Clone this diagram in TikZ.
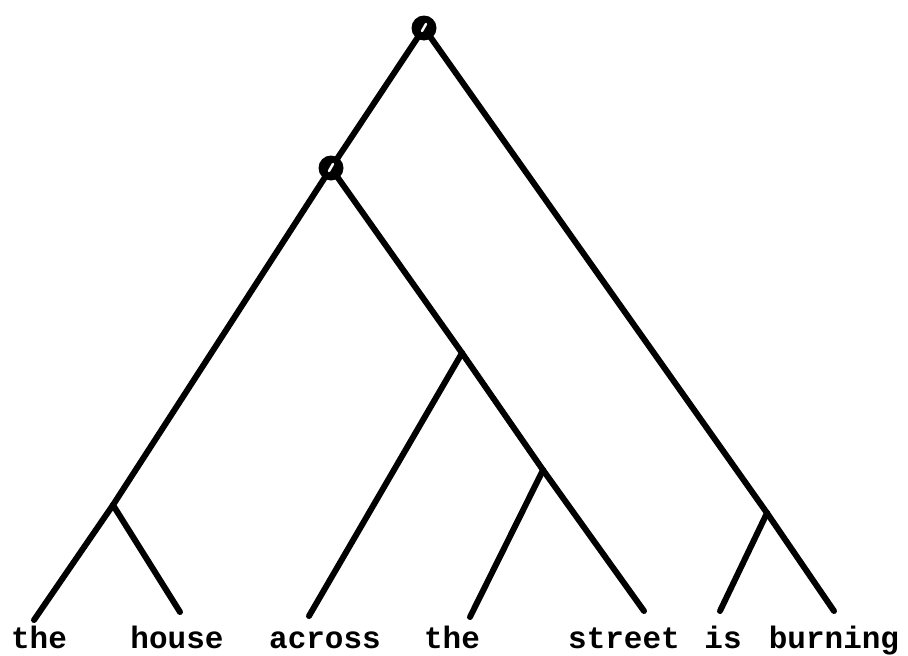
\documentclass[tikz,border=0pt]{standalone}
\usepackage{fontspec}
\usetikzlibrary{calc}
\newfontfamily\wordfont{Liberation Mono}
\begin{document}
\begin{tikzpicture}[x=1pt,y=-1pt,
  branch/.style={line width=6pt,line cap=round,black},
  word/.style={anchor=base,inner sep=0pt,font=\wordfont\bfseries\fontsize{31}{31}\selectfont},
  knot/.style={circle,fill=black,minimum size=25pt,inner sep=0pt},
  glint/.style={white,line width=2.5pt,line cap=round}]
\useasboundingbox (0,0) rectangle (908,656);
% internal points
\coordinate (root) at (424,28);
\coordinate (np) at (331,168);
\coordinate (dn) at (113,505);
\coordinate (pp) at (462,353);
\coordinate (np2) at (543,470);
\coordinate (vp) at (767,513);
% leaf ends
\coordinate (l1) at (34,620);
\coordinate (l2) at (180,612);
\coordinate (l3) at (309,616);
\coordinate (l4) at (470,617);
\coordinate (l5) at (644,611);
\coordinate (l6) at (720,611);
\coordinate (l7) at (834,611);
% branches
\draw[branch] (root) -- (np);
\draw[branch] (root) -- (vp);
\draw[branch] (vp) -- (l7);
\draw[branch] (vp) -- (l6);
\draw[branch] (np) -- (dn);
\draw[branch] (dn) -- (l1);
\draw[branch] (dn) -- (l2);
\draw[branch] (np) -- (pp);
\draw[branch] (pp) -- (l3);
\draw[branch] (pp) -- (np2);
\draw[branch] (np2) -- (l4);
\draw[branch] (np2) -- (l5);
% knots
\node[knot] (rk) at (root) {};
\node[knot] (nk) at (np) {};
\draw[glint] ($(rk.center)+(-2,3)$) -- ($(rk.center)+(2,-4)$);
\draw[glint] ($(nk.center)+(-2,3)$) -- ($(nk.center)+(2,-4)$);
% words
\node[word] (w1) at (39,648) {the};
\node[word] (w2) at (177,648) {house};
\node[word] (w3) at (325,648) {across};
\node[word] (w4) at (452,648) {the};
\node[word] (w5) at (624,648) {street};
\node[word] (w6) at (723,648) {is};
\node[word] (w7) at (834,648) {burning};
\end{tikzpicture}
\end{document}
